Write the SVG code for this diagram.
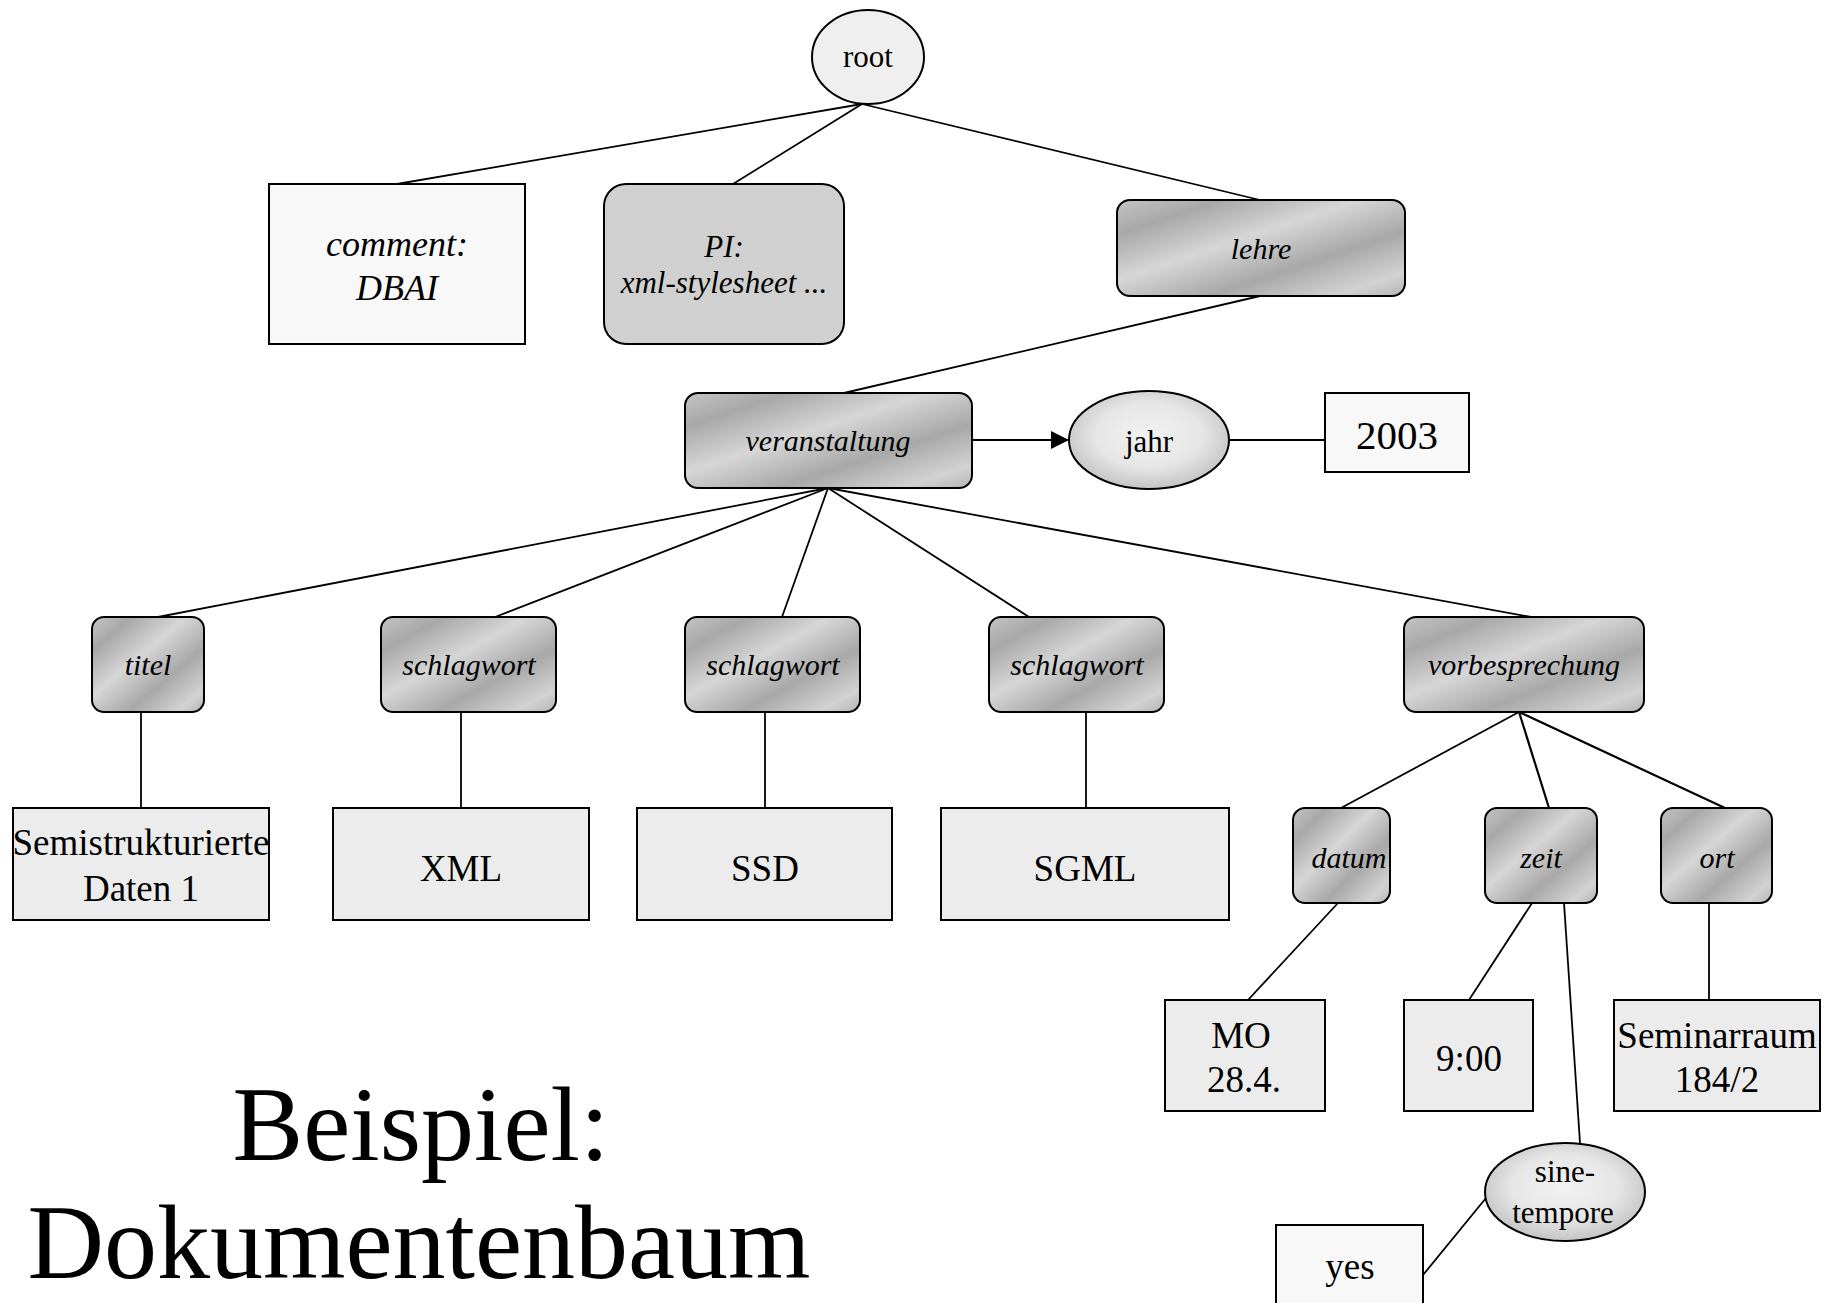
<svg xmlns="http://www.w3.org/2000/svg" width="1832" height="1303" viewBox="0 0 1832 1303">
<defs>
<linearGradient id="metal" x1="0" y1="0" x2="1" y2="1">
<stop offset="0" stop-color="#c4c4c4"/>
<stop offset="0.18" stop-color="#a8a8a8"/>
<stop offset="0.42" stop-color="#d6d6d6"/>
<stop offset="0.66" stop-color="#a8a8a8"/>
<stop offset="0.88" stop-color="#d2d2d2"/>
<stop offset="1" stop-color="#b4b4b4"/>
</linearGradient>
<radialGradient id="bubble" cx="0.5" cy="0.45" r="0.55">
<stop offset="0" stop-color="#f2f2f2"/>
<stop offset="0.6" stop-color="#e6e6e6"/>
<stop offset="1" stop-color="#c4c4c4"/>
</radialGradient>
<marker id="arrowbig" viewBox="0 0 10 10" refX="10" refY="5" markerWidth="18" markerHeight="18" markerUnits="userSpaceOnUse" orient="auto">
<path d="M0,0 L10,5 L0,10 z" fill="#000"/>
</marker>
</defs>
<style>
.edge{stroke:#000;stroke-width:1.8;fill:none}
.el{fill:url(#metal);stroke:#000;stroke-width:2}
.lf{fill:#ececec;stroke:#000;stroke-width:2}
.wt{fill:#f8f8f8;stroke:#000;stroke-width:2}
.bub{fill:url(#bubble);stroke:#000;stroke-width:2}
text{font-family:"Liberation Serif","Times New Roman",serif;fill:#000;text-anchor:middle}
.it{font-style:italic;font-size:30px}
.lt{font-size:37px}
.nt{font-size:31px}
.title{font-size:106px}
</style>
<rect width="1832" height="1303" fill="#fff"/>

<g id="connectors">
<line class="edge" x1="862" y1="104" x2="397" y2="184"/>
<line class="edge" x1="862" y1="104" x2="733" y2="184"/>
<line class="edge" x1="862" y1="104" x2="1260" y2="200"/>
<line class="edge" x1="1260" y1="296" x2="844" y2="393"/>
<line class="edge" x1="972" y1="440" x2="1069" y2="440" marker-end="url(#arrowbig)"/>
<line class="edge" x1="1229" y1="440" x2="1325" y2="440"/>
<line class="edge" x1="828" y1="488" x2="158" y2="617"/>
<line class="edge" x1="828" y1="488" x2="495" y2="617"/>
<line class="edge" x1="828" y1="488" x2="782" y2="617"/>
<line class="edge" x1="828" y1="488" x2="1029" y2="617"/>
<line class="edge" x1="828" y1="488" x2="1531" y2="617"/>
<line class="edge" x1="141" y1="712" x2="141" y2="808"/>
<line class="edge" x1="461" y1="712" x2="461" y2="808"/>
<line class="edge" x1="765" y1="712" x2="765" y2="808"/>
<line class="edge" x1="1086" y1="712" x2="1086" y2="808"/>
<line class="edge" x1="1519" y1="712" x2="1341" y2="808"/>
<line class="edge" x1="1519" y1="712" x2="1549" y2="808" style="stroke-width:2.2"/>
<line class="edge" x1="1519" y1="712" x2="1725" y2="808" style="stroke-width:2.2"/>
<line class="edge" x1="1338" y1="903" x2="1248" y2="1000"/>
<line class="edge" x1="1532" y1="903" x2="1469" y2="1000"/>
<line class="edge" x1="1564" y1="903" x2="1580" y2="1143"/>
<line class="edge" x1="1709" y1="903" x2="1709" y2="1000"/>
<line class="edge" x1="1486" y1="1198" x2="1423" y2="1275"/>
</g>

<g id="root"><ellipse class="bub" style="fill:#efefef" cx="868" cy="57" rx="56" ry="47"/><text class="nt" x="868" y="67">root</text></g>

<g id="comment"><rect class="wt" x="269" y="184" width="256" height="160"/><text class="it" style="font-size:36px" x="397" y="256">comment:</text><text class="it" style="font-size:36px" x="397" y="300">DBAI</text></g>

<g id="pi"><rect x="604" y="184" width="240" height="160" rx="22" fill="#d0d0d0" stroke="#000" stroke-width="2"/><text class="it" style="font-size:31px" x="724" y="257">PI:</text><text class="it" style="font-size:31px" x="724" y="293">xml-stylesheet ...</text></g>

<g id="lehre"><rect class="el" x="1117" y="200" width="288" height="96" rx="13"/><text class="it" x="1261" y="259">lehre</text></g>

<g id="veranstaltung"><rect class="el" x="685" y="393" width="287" height="95" rx="13"/><text class="it" x="828" y="451">veranstaltung</text></g>

<g id="jahr"><ellipse class="bub" cx="1149" cy="440" rx="80" ry="49"/><text class="nt" x="1149" y="452">jahr</text></g>

<g id="v2003"><rect class="wt" x="1325" y="393" width="144" height="79"/><text style="font-size:41px" x="1397" y="449">2003</text></g>

<g id="titel"><rect class="el" x="92" y="617" width="112" height="95" rx="12"/><text class="it" x="148" y="675">titel</text></g>
<g id="schlagwort1"><rect class="el" x="381" y="617" width="175" height="95" rx="12"/><text class="it" x="469" y="675">schlagwort</text></g>
<g id="schlagwort2"><rect class="el" x="685" y="617" width="175" height="95" rx="12"/><text class="it" x="773" y="675">schlagwort</text></g>
<g id="schlagwort3"><rect class="el" x="989" y="617" width="175" height="95" rx="12"/><text class="it" x="1077" y="675">schlagwort</text></g>
<g id="vorbesprechung"><rect class="el" x="1404" y="617" width="240" height="95" rx="12"/><text class="it" x="1524" y="675">vorbesprechung</text></g>

<g id="semistrukturierte"><rect class="lf" x="13" y="808" width="256" height="112"/><text class="lt" x="141" y="855">Semistrukturierte</text><text class="lt" x="141" y="901">Daten 1</text></g>
<g id="xml"><rect class="lf" x="333" y="808" width="256" height="112"/><text class="lt" x="461" y="881">XML</text></g>
<g id="ssd"><rect class="lf" x="637" y="808" width="255" height="112"/><text class="lt" x="765" y="881">SSD</text></g>
<g id="sgml"><rect class="lf" x="941" y="808" width="288" height="112"/><text class="lt" x="1085" y="881">SGML</text></g>

<g id="datum"><rect class="el" x="1293" y="808" width="97" height="95" rx="12"/><text class="it" x="1349" y="868">datum</text></g>
<g id="zeit"><rect class="el" x="1485" y="808" width="112" height="95" rx="12"/><text class="it" x="1541" y="868">zeit</text></g>
<g id="ort"><rect class="el" x="1661" y="808" width="111" height="95" rx="12"/><text class="it" x="1717" y="868">ort</text></g>

<g id="mo"><rect class="lf" x="1165" y="1000" width="160" height="111"/><text class="lt" x="1241" y="1048">MO</text><text class="lt" x="1244" y="1092">28.4.</text></g>
<g id="neun"><rect class="lf" x="1404" y="1000" width="129" height="111"/><text class="lt" x="1469" y="1071">9:00</text></g>
<g id="seminarraum"><rect class="lf" x="1614" y="1000" width="206" height="111"/><text class="lt" x="1717" y="1048">Seminarraum</text><text class="lt" x="1717" y="1092">184/2</text></g>

<g id="sinetempore"><ellipse class="bub" cx="1565" cy="1192" rx="80" ry="49"/><text class="nt" x="1565" y="1182">sine-</text><text class="nt" x="1563" y="1223">tempore</text></g>

<g id="yes"><rect class="wt" x="1276" y="1225" width="147" height="90"/><text class="lt" x="1350" y="1279">yes</text></g>

<g id="title"><text class="title" x="421" y="1160">Beispiel:</text><text class="title" x="419" y="1278">Dokumentenbaum</text></g>
</svg>
